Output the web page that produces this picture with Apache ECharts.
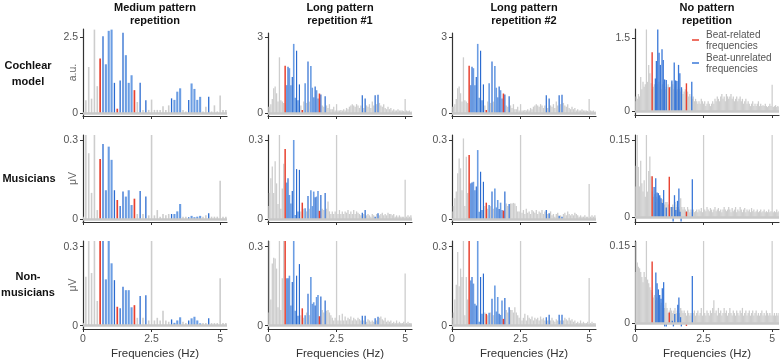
<!DOCTYPE html>
<html lang="en">
<head>
  <meta charset="UTF-8">
  <title>Spectra</title>
  <script src="https://cdn.jsdelivr.net/npm/echarts@6/dist/echarts.min.js"></script>
  <style>
    html, body { margin: 0; padding: 0; background: #fff; }
    #chart { width: 780px; height: 362px; }
  </style>
</head>
<body>
<div id="chart"></div>
<script>
  // ---- labels ----
  var columnTitles = ['Medium pattern\nrepetition', 'Long pattern\nrepetition #1', 'Long pattern\nrepetition #2', 'No pattern\nrepetition'];
  var rowTitles = ['Cochlear\nmodel', 'Musicians', 'Non-\nmusicians'];
  var yUnits = ['a.u.', 'μV', 'μV'];
  var xTicks = [0, 2.5, 5];
  var yTopTicks = [[2.5, 3, 3, 1.5], [0.3, 0.3, 0.3, 0.15], [0.3, 0.3, 0.3, 0.15]];
  var legendNames = ['Beat-related\nfrequencies', 'Beat-unrelated\nfrequencies'];

  // ---- frequency bins (Hz per bin) ----
  var MED_STEP = 1 / 9.6;
  var LONG_STEP = 1 / 19.2;
  var NONE_STEP = 1 / 24;

  // bins of beat-related / beat-unrelated frequencies
  var medRedBins = [6, 12, 18];
  var medDarkBins = [7, 11, 13, 14, 20, 22, 31, 37, 44];
  var medLightBins = [8, 9, 10, 15, 16, 17, 32, 33, 34, 38, 39, 40, 41];
  var longRedBins = [12, 24, 36];
  var longDarkBins = [14, 17, 20, 22, 28, 33, 37, 40, 66, 68, 75, 77];
  var longLightBins = [13, 15, 16, 18, 19, 21, 26, 30, 31, 32, 34, 35];

  // ---- medium pattern spectra (bins 0..50) ----
  var medCochlear = [
    0, 0.42, 1.51, 0.47, 2.74, 0.88, 1.79, 2.52, 1.6, 2.7,
    2.74, 0.99, 0.14, 1.07, 2.64, 1.9, 0.99, 1.24, 0.75, 0.36,
    0.99, 0.1, 0.42, 0.1, 0.44, 0.1, 0.1, 0.1, 0.22, 0.1,
    0.25, 0.48, 0.43, 0.7, 0.81, 0.1, 0.05, 0.43, 0.97, 0.79,
    0.43, 0.53, 0.05, 0.2, 0.53, 0.05, 0.25, 0.05, 0.57, 0.1,
    0.1
  ];
  var medMusicians = [
    0.01, 0.33, 0.25, 0.1, 0.33, 0.035, 0.228, 0.285, 0.11, 0.275,
    0.225, 0.11, 0.073, 0.05, 0.105, 0.086, 0.11, 0.054, 0.078, 0.02,
    0.107, 0.02, 0.086, 0.015, 0.33, 0.015, 0.035, 0.01, 0.02, 0.015,
    0.02, 0.02, 0.02, 0.03, 0.058, 0.01, 0.01, 0.008, 0.013, 0.008,
    0.01, 0.013, 0.01, 0.015, 0.023, 0.01, 0.01, 0.01, 0.146, 0.01,
    0.01
  ];
  var medNonMusicians = [
    0.01, 0.186, 0.34, 0.2, 0.34, 0.094, 0.34, 0.34, 0.176, 0.34,
    0.237, 0.173, 0.072, 0.066, 0.148, 0.135, 0.135, 0.07, 0.078, 0.03,
    0.113, 0.03, 0.116, 0.02, 0.34, 0.02, 0.03, 0.02, 0.057, 0.02,
    0.015, 0.024, 0.011, 0.02, 0.032, 0.015, 0.01, 0.02, 0.028, 0.034,
    0.02, 0.009, 0.01, 0.01, 0.028, 0.01, 0.01, 0.01, 0.18, 0.01,
    0.01
  ];

  // ---- long pattern spectra (bins 0..101) ----
  var longCochlear = [
    0.25, 0.25, 0.35, 0.55, 0.98, 1.05, 0.78, 0.45, 2.2, 0.5,
    0.45, 0.4, 1.87, 1.1, 1.83, 1.77, 1.1, 1.42, 2.73, 0.6,
    2.46, 0.5, 1.13, 0.3, 0.12, 0.45, 1.18, 0.4, 2.03, 0.45,
    1.86, 1.0, 0.62, 1.05, 0.9, 0.57, 0.77, 0.73, 0.3, 0.25,
    0.66, 0.3, 0.2, 0.35, 0.15, 0.15, 0.25, 0.1, 0.35, 0.1,
    0.1, 0.12, 0.1, 0.15, 0.1, 0.2, 0.15, 0.25, 0.3, 0.35,
    0.3, 0.25, 0.35, 0.3, 0.2, 0.3, 0.7, 0.2, 0.57, 0.3,
    0.25, 0.35, 0.2, 0.45, 0.3, 0.7, 0.35, 0.72, 0.4, 0.3,
    0.25, 0.35, 0.2, 0.15, 0.25, 0.15, 0.2, 0.1, 0.15, 0.1,
    0.1, 0.15, 0.1, 0.1, 0.1, 0.08, 0.55, 0.1, 0.08, 0.1,
    0.05, 0.08
  ];
  var long1Musicians = [
    0.05, 0.1, 0.155, 0.2, 0.1, 0.22, 0.136, 0.058, 0.33, 0.04,
    0.117, 0.21, 0.266, 0.139, 0.155, 0.092, 0.06, 0.107, 0.3, 0.016,
    0.19, 0.03, 0.187, 0.03, 0.063, 0.04, 0.042, 0.03, 0.088, 0.04,
    0.11, 0.05, 0.105, 0.083, 0.086, 0.107, 0.032, 0.092, 0.04, 0.035,
    0.1, 0.04, 0.067, 0.03, 0.02, 0.03, 0.02, 0.03, 0.33, 0.02,
    0.035, 0.02, 0.03, 0.02, 0.03, 0.025, 0.035, 0.02, 0.03, 0.02,
    0.035, 0.02, 0.03, 0.025, 0.02, 0.015, 0.025, 0.02, 0.035, 0.015,
    0.02, 0.015, 0.01, 0.02, 0.015, 0.01, 0.02, 0.023, 0.015, 0.02,
    0.025, 0.015, 0.02, 0.015, 0.025, 0.02, 0.02, 0.015, 0.02, 0.01,
    0.015, 0.01, 0.015, 0.01, 0.01, 0.01, 0.15, 0.01, 0.015, 0.01,
    0.015, 0.01
  ];
  var long2Musicians = [
    0.03, 0.05, 0.08, 0.105, 0.174, 0.23, 0.193, 0.11, 0.306, 0.05,
    0.237, 0.1, 0.243, 0.136, 0.139, 0.142, 0.11, 0.124, 0.262, 0.029,
    0.18, 0.035, 0.142, 0.05, 0.063, 0.04, 0.054, 0.05, 0.105, 0.04,
    0.117, 0.045, 0.073, 0.039, 0.063, 0.035, 0.033, 0.105, 0.06, 0.05,
    0.058, 0.06, 0.06, 0.062, 0.06, 0.05, 0.03, 0.03, 0.33, 0.025,
    0.035, 0.02, 0.04, 0.025, 0.03, 0.02, 0.035, 0.03, 0.025, 0.035,
    0.02, 0.03, 0.025, 0.035, 0.02, 0.03, 0.035, 0.02, 0.023, 0.03,
    0.015, 0.02, 0.01, 0.02, 0.025, 0.013, 0.015, 0.01, 0.02, 0.025,
    0.015, 0.03, 0.02, 0.015, 0.02, 0.015, 0.025, 0.02, 0.015, 0.01,
    0.015, 0.01, 0.01, 0.015, 0.01, 0.01, 0.134, 0.01, 0.015, 0.01,
    0.015, 0.01
  ];
  var long1NonMusicians = [
    0.05, 0.34, 0.1, 0.236, 0.258, 0.255, 0.217, 0.07, 0.34, 0.06,
    0.18, 0.34, 0.34, 0.18, 0.18, 0.19, 0.077, 0.166, 0.34, 0.057,
    0.19, 0.038, 0.234, 0.04, 0.066, 0.03, 0.04, 0.05, 0.121, 0.04,
    0.185, 0.083, 0.089, 0.077, 0.109, 0.117, 0.036, 0.111, 0.06, 0.05,
    0.096, 0.057, 0.06, 0.05, 0.04, 0.03, 0.02, 0.03, 0.34, 0.02,
    0.04, 0.02, 0.045, 0.02, 0.035, 0.02, 0.03, 0.025, 0.035, 0.02,
    0.03, 0.025, 0.02, 0.03, 0.025, 0.02, 0.038, 0.02, 0.038, 0.015,
    0.025, 0.02, 0.015, 0.02, 0.015, 0.028, 0.02, 0.034, 0.03, 0.035,
    0.025, 0.02, 0.03, 0.015, 0.02, 0.015, 0.02, 0.01, 0.015, 0.01,
    0.02, 0.01, 0.015, 0.01, 0.01, 0.015, 0.198, 0.01, 0.015, 0.01,
    0.01, 0.01
  ];
  var long2NonMusicians = [
    0.03, 0.05, 0.1, 0.156, 0.28, 0.15, 0.217, 0.185, 0.34, 0.04,
    0.185, 0.1, 0.34, 0.172, 0.185, 0.16, 0.083, 0.077, 0.34, 0.015,
    0.185, 0.045, 0.198, 0.05, 0.045, 0.04, 0.049, 0.05, 0.102, 0.04,
    0.153, 0.054, 0.109, 0.045, 0.041, 0.096, 0.026, 0.105, 0.06, 0.05,
    0.07, 0.06, 0.06, 0.05, 0.07, 0.05, 0.04, 0.03, 0.34, 0.02,
    0.03, 0.045, 0.02, 0.04, 0.03, 0.025, 0.035, 0.02, 0.03, 0.025,
    0.03, 0.02, 0.035, 0.025, 0.03, 0.02, 0.032, 0.02, 0.042, 0.02,
    0.03, 0.02, 0.015, 0.025, 0.02, 0.042, 0.02, 0.042, 0.02, 0.03,
    0.025, 0.02, 0.03, 0.02, 0.025, 0.015, 0.02, 0.01, 0.015, 0.01,
    0.02, 0.01, 0.015, 0.01, 0.01, 0.015, 0.181, 0.01, 0.015, 0.01,
    0.01, 0.01
  ];

  // ---- no pattern spectra (bins 0..126), marked frequencies given as [Hz, value] ----
  var noneCochlear = [
    0.2, 0.3, 0.25, 0.35, 0.3, 0.7, 0.45, 0.6, 0.5, 0.55,
    1.68, 0.6, 0.95, 0.78, 0.57, 0.45, 0.5, 0.55, 0.6, 0.5,
    0.55, 0.6, 0.5, 0.45, 0.55, 0.6, 0.5, 0.45, 0.5, 0.55,
    0.45, 0.5, 0.6, 0.55, 0.45, 0.5, 0.4, 0.45, 0.5, 0.45,
    0.4, 0.45, 0.35, 0.4, 0.45, 0.35, 0.4, 0.3, 0.35, 0.3,
    0.25, 0.3, 0.2, 0.25, 0.2, 0.15, 0.2, 0.15, 0.25, 0.2,
    0.15, 0.2, 0.1, 0.15, 0.2, 0.15, 0.1, 0.15, 0.2, 0.15,
    0.25, 0.2, 0.3, 0.25, 0.2, 0.3, 0.35, 0.25, 0.3, 0.2,
    0.35, 0.3, 0.25, 0.3, 0.35, 0.25, 0.3, 0.2, 0.25, 0.3,
    0.2, 0.25, 0.3, 0.2, 0.25, 0.15, 0.2, 0.25, 0.15, 0.2,
    0.15, 0.1, 0.15, 0.2, 0.1, 0.15, 0.1, 0.15, 0.2, 0.1,
    0.15, 0.1, 0.12, 0.1, 0.15, 0.1, 0.08, 0.1, 0.15, 0.1,
    0.54, 0.08, 0.1, 0.12, 0.08, 0.1, 0.08
  ];
  var noneCochlearRed = [[0.625, 1.21], [1.25, 0.49], [1.875, 0.57]];
  var noneCochlearBlue = [
    [0.744, 0.67], [0.78, 1.03], [0.83, 1.68], [0.877, 1.2], [0.925, 0.95], [0.985, 1.27],
    [1.03, 1.05], [1.08, 0.65], [1.14, 0.64], [1.345, 0.63], [1.43, 1.0], [1.48, 0.63],
    [1.527, 0.62], [1.587, 0.95], [1.635, 0.78], [1.695, 0.49], [2.07, 0.6]
  ];
  var noneMusicians = [
    0.06, 0.1, 0.17, 0.098, 0.06, 0.11, 0.066, 0.05, 0.072, 0.04,
    0.17, 0.05, 0.09, 0.118, 0.08, 0.05, 0.04, 0.045, 0.03, 0.04,
    0.035, 0.03, 0.04, 0.03, 0.035, 0.03, 0.025, 0.03, 0.03, 0.025,
    0.025, 0.02, 0.02, 0.025, 0.02, 0.03, 0.02, 0.025, 0.02, 0.015,
    0.037, 0.02, 0.015, 0.02, 0.015, 0.012, 0.02, 0.015, 0.01, 0.015,
    0.01, 0.015, 0.01, 0.012, 0.015, 0.01, 0.015, 0.012, 0.018, 0.01,
    0.17, 0.015, 0.012, 0.02, 0.015, 0.012, 0.018, 0.015, 0.01, 0.015,
    0.02, 0.012, 0.015, 0.018, 0.012, 0.015, 0.01, 0.015, 0.02, 0.015,
    0.012, 0.015, 0.02, 0.015, 0.01, 0.018, 0.012, 0.015, 0.02, 0.01,
    0.015, 0.012, 0.02, 0.015, 0.01, 0.015, 0.018, 0.01, 0.015, 0.012,
    0.015, 0.01, 0.018, 0.012, 0.015, 0.01, 0.012, 0.015, 0.01, 0.012,
    0.015, 0.01, 0.012, 0.015, 0.01, 0.012, 0.01, 0.015, 0.01, 0.012,
    0.17, 0.01, 0.012, 0.01, 0.015, 0.01, 0.012
  ];
  var noneMusiciansRed = [[0.625, 0.08], [1.25, 0.079], [1.875, 0.011]];
  var noneMusiciansBlue = [
    [0.696, 0.059], [0.756, 0.076], [0.804, 0.048], [0.852, 0.047], [0.9, 0.043], [0.948, 0.037],
    [0.996, 0.028], [1.044, 0.053], [1.14, 0.019], [1.345, 0.02], [1.39, -0.008], [1.44, 0.043],
    [1.49, 0.014], [1.55, 0.032], [1.6, 0.056], [1.64, 0.011], [1.68, -0.008], [2.09, 0.074]
  ];
  var noneNonMusicians = [
    0.1, 0.158, 0.118, 0.11, 0.107, 0.1, 0.09, 0.08, 0.1, 0.09,
    0.17, 0.085, 0.078, 0.07, 0.065, 0.06, 0.05, 0.055, 0.045, 0.05,
    0.045, 0.04, 0.035, 0.04, 0.03, 0.035, 0.03, 0.04, 0.03, 0.02,
    0.025, 0.03, 0.025, 0.02, 0.025, 0.03, 0.02, 0.025, 0.035, 0.02,
    0.03, 0.025, 0.02, 0.025, 0.02, 0.015, 0.025, 0.02, 0.015, 0.02,
    0.015, 0.02, 0.025, 0.015, 0.02, 0.025, 0.015, 0.02, 0.03, 0.015,
    0.17, 0.02, 0.015, 0.025, 0.02, 0.015, 0.025, 0.02, 0.03, 0.045,
    0.02, 0.025, 0.015, 0.03, 0.02, 0.025, 0.015, 0.02, 0.03, 0.02,
    0.025, 0.015, 0.02, 0.03, 0.02, 0.015, 0.025, 0.02, 0.015, 0.025,
    0.02, 0.015, 0.025, 0.02, 0.03, 0.015, 0.02, 0.025, 0.015, 0.02,
    0.025, 0.015, 0.02, 0.025, 0.015, 0.02, 0.025, 0.015, 0.02, 0.015,
    0.02, 0.025, 0.015, 0.02, 0.015, 0.025, 0.02, 0.015, 0.02, 0.015,
    0.17, 0.015, 0.02, 0.015, 0.02, 0.015, 0.02
  ];
  var noneNonMusiciansRed = [[0.625, 0.12], [1.25, 0.021], [1.875, -0.005]];
  var noneNonMusiciansBlue = [
    [0.76, 0.099], [0.804, 0.078], [0.852, 0.066], [0.9, 0.055], [0.948, 0.048], [0.996, 0.068],
    [1.044, 0.08], [1.08, -0.006], [1.14, -0.006], [1.36, 0.005], [1.4, -0.006], [1.45, 0.018],
    [1.56, 0.036], [1.6, 0.05], [1.66, 0.012], [1.69, -0.006], [2.09, 0.092]
  ];

  // ---- split spectra into gray / red / blue marks ----
  function binned(amps, step, redBins, darkBins, lightBins) {
    var out = { gray: [], red: [], dark: [], light: [] };
    amps.forEach(function (a, i) {
      var p = [i * step, a];
      if (redBins.indexOf(i) >= 0) out.red.push(p);
      else if (darkBins.indexOf(i) >= 0) out.dark.push(p);
      else if (lightBins.indexOf(i) >= 0) out.light.push(p);
      else out.gray.push(p);
    });
    return out;
  }
  function med(amps) { return binned(amps, MED_STEP, medRedBins, medDarkBins, medLightBins); }
  function lng(amps) { return binned(amps, LONG_STEP, longRedBins, longDarkBins, longLightBins); }
  function none(amps, red, blue) {
    return { gray: amps.map(function (a, i) { return [i * NONE_STEP, a]; }), red: red, dark: blue, light: [] };
  }

  var panels = [
    [med(medCochlear), lng(longCochlear), lng(longCochlear), none(noneCochlear, noneCochlearRed, noneCochlearBlue)],
    [med(medMusicians), lng(long1Musicians), lng(long2Musicians), none(noneMusicians, noneMusiciansRed, noneMusiciansBlue)],
    [med(medNonMusicians), lng(long1NonMusicians), lng(long2NonMusicians), none(noneNonMusicians, noneNonMusiciansRed, noneNonMusiciansBlue)]
  ];

  // ---- layout ----
  var FONT = '"Liberation Sans", Arial, sans-serif';
  var colX = [83, 268, 452, 635];
  var PLOT_W = 144;
  var X_MAX = 5.25;
  // [top, height] per panel
  var gridBox = [
    [[29, 87], [33, 83], [33, 83], [29, 86]],
    [[135, 87], [135, 87], [135, 87], [135, 87]],
    [[241, 88], [241, 88], [241, 88], [241, 88]]
  ];
  var yRange = [
    [[-0.1, 2.76], [-0.118, 3.16], [-0.118, 3.16], [-0.083, 1.69]],
    [[-0.0102, 0.319], [-0.0102, 0.319], [-0.0102, 0.319], [-0.0091, 0.16]],
    [[-0.0125, 0.3217], [-0.0125, 0.3217], [-0.0125, 0.3217], [-0.011, 0.16]]
  ];
  var widths = [
    { gray: 1.6, red: 1.7, dark: 1.3, light: 2.1 },
    { gray: 1.3, red: 1.5, dark: 1.2, light: 1.6 },
    { gray: 1.3, red: 1.5, dark: 1.2, light: 1.6 },
    { gray: 1.25, red: 1.4, dark: 1.3, light: 1.3 }
  ];
  var COLORS = { gray: '#cdcdcd', red: '#e8402f', dark: '#2a6bd0', light: '#6b9de3' };

  function barSeries(idx, pts, color, width, baseline) {
    var s = {
      type: 'custom',
      xAxisIndex: idx,
      yAxisIndex: idx,
      clip: true,
      silent: true,
      animation: false,
      data: pts,
      renderItem: function (params, api) {
        var top = api.coord([api.value(0), api.value(1)]);
        var base = api.coord([api.value(0), 0]);
        return {
          type: 'rect',
          shape: {
            x: top[0] - width / 2,
            y: Math.min(top[1], base[1]),
            width: width,
            height: Math.max(Math.abs(base[1] - top[1]), 0.6)
          },
          style: { fill: color }
        };
      }
    };
    if (baseline) {
      s.markLine = {
        silent: true,
        animation: false,
        symbol: ['none', 'none'],
        label: { show: false },
        lineStyle: { color: '#c8c8c8', width: 2.5, type: 'solid' },
        data: [{ yAxis: 0 }]
      };
    }
    return s;
  }

  var grids = [], xAxes = [], yAxes = [], series = [];
  for (var r = 0; r < 3; r++) {
    for (var c = 0; c < 4; c++) {
      var idx = r * 4 + c;
      var box = gridBox[r][c];
      var yr = yRange[r][c];
      var yt = [0, yTopTicks[r][c]];
      grids.push({ left: colX[c], top: box[0], width: PLOT_W, height: box[1] });
      xAxes.push({
        gridIndex: idx, type: 'value', min: 0, max: X_MAX,
        axisLine: { onZero: false, lineStyle: { color: '#333', width: 1.2 } },
        axisTick: { show: true, length: 3, customValues: xTicks, lineStyle: { color: '#333' } },
        axisLabel: { show: r === 2, customValues: xTicks, margin: 5, fontSize: 10.5, color: '#555', fontFamily: FONT },
        splitLine: { show: false },
        name: r === 2 ? 'Frequencies (Hz)' : '',
        nameLocation: 'middle', nameGap: 19, nameMoveOverlap: false,
        nameTextStyle: { fontSize: 11.5, color: '#333', fontFamily: FONT }
      });
      yAxes.push({
        gridIndex: idx, type: 'value', min: yr[0], max: yr[1],
        axisLine: { show: true, lineStyle: { color: '#333', width: 1.2 } },
        axisTick: { show: true, length: 3, customValues: yt, lineStyle: { color: '#333' } },
        axisLabel: { customValues: yt, margin: 5, fontSize: 10.5, color: '#555', fontFamily: FONT },
        splitLine: { show: false },
        name: c === 0 ? yUnits[r] : '',
        nameLocation: 'middle', nameGap: 4, nameRotate: 90, nameMoveOverlap: false,
        nameTextStyle: { fontSize: 10.5, color: '#666', fontFamily: FONT }
      });
      var p = panels[r][c], w = widths[c];
      series.push(barSeries(idx, p.gray, COLORS.gray, w.gray, true));
      series.push(barSeries(idx, p.light, COLORS.light, w.light));
      series.push(barSeries(idx, p.dark, c === 3 ? '#3a78d8' : COLORS.dark, w.dark));
      series.push(barSeries(idx, p.red, COLORS.red, w.red));
    }
  }

  var graphic = [];
  columnTitles.forEach(function (t, c) {
    graphic.push({
      type: 'text', z: 10,
      style: { text: t, x: colX[c] + 72, y: 14.5, textAlign: 'center', verticalAlign: 'middle',
        font: 'bold 11px ' + FONT, lineHeight: 13, fill: '#111' }
    });
  });
  var rowCenters = [[28, 74], [29, 179], [28, 285]];
  rowTitles.forEach(function (t, r) {
    graphic.push({
      type: 'text', z: 10,
      style: { text: t, x: rowCenters[r][0], y: rowCenters[r][1], textAlign: 'center', verticalAlign: 'middle',
        font: 'bold 11px ' + FONT, lineHeight: 16, fill: '#111' }
    });
  });
  [[COLORS.red, 40], ['#3a78d8', 63]].forEach(function (item, i) {
    graphic.push({
      type: 'line', z: 10,
      shape: { x1: 692, y1: item[1], x2: 699, y2: item[1] },
      style: { stroke: item[0], lineWidth: 1.5 }
    });
    graphic.push({
      type: 'text', z: 10,
      style: { text: legendNames[i], x: 706, y: item[1] + 0.5, textAlign: 'left', verticalAlign: 'middle',
        font: '10px ' + FONT, lineHeight: 11.5, fill: '#555' }
    });
  });

  var chart = echarts.init(document.getElementById('chart'), null, { renderer: 'canvas' });
  chart.setOption({
    animation: false,
    backgroundColor: '#fff',
    grid: grids,
    xAxis: xAxes,
    yAxis: yAxes,
    series: series,
    graphic: graphic
  });
</script>
</body>
</html>
